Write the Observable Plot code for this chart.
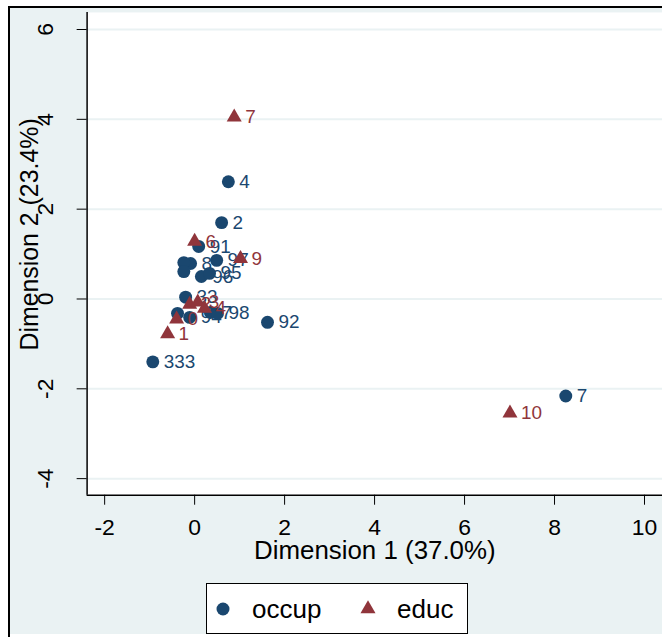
<!DOCTYPE html>
<html><head><meta charset="utf-8">
<script src="https://cdn.jsdelivr.net/npm/d3@7"></script>
<script src="https://cdn.jsdelivr.net/npm/@observablehq/plot@0.6"></script>
<style>
html,body{margin:0;padding:0;background:#fff;overflow:hidden;}
#wrap{position:relative;width:662px;height:637px;overflow:hidden;font-family:'Liberation Sans',Arial,sans-serif;background:#fff;}
#chart{position:absolute;left:0;top:0;background:#eaf2f3;}
.ov{position:absolute;}
#wTop{left:0;top:0;width:720px;height:6px;background:#fff;}
#wLeft{left:0;top:0;width:8px;height:700px;background:#fff;}
#bTop{left:8px;top:6px;width:720px;height:2px;background:#000;}
#bLeft{left:8px;top:6px;width:2px;height:700px;background:#000;}
#legend{position:absolute;left:206px;top:583px;width:260px;height:49px;background:#fff;border:1px solid #000;}
</style></head><body>
<div id="wrap">
  <div id="chart"></div>
  <div class="ov" id="wTop"></div><div class="ov" id="wLeft"></div>
  <div class="ov" id="bTop"></div><div class="ov" id="bLeft"></div>
  <div id="legend"></div>
</div>
<script>
// ---- data ----
const seriesNames = ["occup", "educ"];
const seriesColors = ["#1a476f", "#90353b"];

const occupLabels = ["4", "2", "91", "97", "8", "", "", "96", "95", "33", "7", "98", "94", "", "92", "333", "7"];
const occupX = [0.75, 0.60, 0.09, 0.49, -0.09, -0.24, -0.24, 0.15, 0.33, -0.20, 0.35, 0.51, -0.11, -0.38, 1.62, -0.93, 8.25];
const occupY = [2.61, 1.70, 1.17, 0.86, 0.79, 0.81, 0.61, 0.50, 0.57, 0.04, -0.30, -0.32, -0.41, -0.32, -0.52, -1.40, -2.16];

const educLabels = ["7", "6", "9", "10", "1", "0", "2", "3", "4"];
const educX = [0.88, 0.00, 1.02, 7.01, -0.60, -0.40, -0.11, 0.07, 0.22];
const educY = [4.05, 1.28, 0.90, -2.54, -0.78, -0.45, -0.12, -0.07, -0.21];

const xTicks = [-2, 0, 2, 4, 6, 8, 10];
const yTicks = [-4, -2, 0, 2, 4, 6];
const xTitle = "Dimension 1 (37.0%)";
const yTitle = "Dimension 2 (23.4%)";

const occup = occupLabels.map((l, i) => ({label: l, x: occupX[i], y: occupY[i]}));
const educ = educLabels.map((l, i) => ({label: l, x: educX[i], y: educY[i]}));

const xDomain = [-2.39, 10.40];
const yDomain = [-4.37, 6.38];
const navy = seriesColors[0], maroon = seriesColors[1];

const plot = Plot.plot({
  width: 665, height: 637,
  marginLeft: 87, marginRight: 0, marginTop: 12, marginBottom: 140,
  x: {domain: xDomain},
  y: {domain: yDomain},
  style: {fontFamily: "'Liberation Sans', Arial, sans-serif", fontSize: "23px", background: "transparent", overflow: "visible", color: "#000"},
  marks: [
    Plot.frame({fill: "white", stroke: "none"}),
    Plot.ruleY(yTicks, {stroke: "#eaf2f3", strokeWidth: 2}),
    Plot.ruleX([xDomain[0]], {stroke: "#000", strokeWidth: 1.5}),
    Plot.ruleY([yDomain[0]], {stroke: "#000", strokeWidth: 1.5}),
    Plot.axisX({ticks: xTicks, tickSize: 10, tickPadding: 14, tickFormat: d => String(d), label: null}),
    Plot.axisY({ticks: yTicks, tickSize: 10, tickFormat: () => "", label: null}),
    Plot.text(yTicks, {y: d => d, text: d => String(d), frameAnchor: "left", dx: -42, rotate: -90, textAnchor: "middle", lineAnchor: "middle", fontSize: 23}),
    Plot.text([xTitle], {text: d => d, frameAnchor: "bottom", dy: 64, textAnchor: "middle", fontSize: 26}),
    Plot.text([yTitle], {text: d => d, frameAnchor: "left", dx: -57, dy: -19.5, rotate: -90, textAnchor: "middle", lineAnchor: "middle", fontSize: 25}),
    Plot.dot(occup, {x: "x", y: "y", r: 6.5, fill: navy}),
    Plot.text(occup, {x: "x", y: "y", text: "label", dx: 11, textAnchor: "start", fill: navy, fontSize: 19}),
    Plot.dot(educ, {x: "x", y: "y", r: 5.6, symbol: "triangle", fill: maroon}),
    Plot.text(educ, {x: "x", y: "y", text: "label", dx: 11, textAnchor: "start", fill: maroon, fontSize: 19})
  ]
});
plot.style.setProperty("background", "transparent", "important");
document.getElementById("chart").appendChild(plot);

const lg = d3.select("#legend").append("svg").attr("width", 260).attr("height", 49)
  .style("font-family", "'Liberation Sans', Arial, sans-serif").style("font-size", "26px");
const legendItems = [
  {name: seriesNames[0], color: seriesColors[0], sym: d3.symbolCircle, size: Math.PI * 6.5 * 6.5, mx: 16, tx: 45},
  {name: seriesNames[1], color: seriesColors[1], sym: d3.symbolTriangle, size: Math.PI * 5.6 * 5.6, mx: 161, tx: 190}
];
legendItems.forEach(it => {
  lg.append("path").attr("d", d3.symbol(it.sym, it.size)()).attr("transform", `translate(${it.mx},25)`).attr("fill", it.color);
  lg.append("text").attr("x", it.tx).attr("y", 34).text(it.name).attr("fill", "#000");
});
</script>
</body></html>
